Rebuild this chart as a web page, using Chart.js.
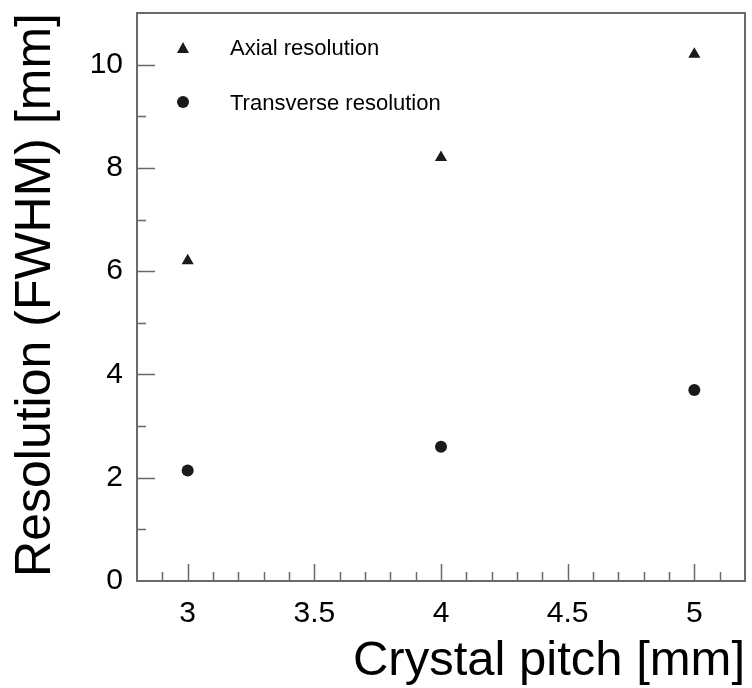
<!DOCTYPE html>
<html>
<head>
<meta charset="utf-8">
<script src="https://cdn.jsdelivr.net/npm/chart.js@4.4.0/dist/chart.umd.min.js"></script>
<style>
    html, body { margin: 0; padding: 0; background: #fff; }
    #wrap { width: 752px; height: 688px; }
</style>
</head>
<body>
<div id="wrap"><canvas id="chart" width="752" height="688"></canvas></div>
<script>
// Data
const pitches = [3, 4, 5];
const axialRes = [6.2, 8.2, 10.2];
const transverseRes = [2.14, 2.6, 3.7];
const seriesLabels = ['Axial resolution', 'Transverse resolution'];

// Axis ticks
const xTicks = [3, 3.5, 4, 4.5, 5];
const yTicks = [0, 2, 4, 6, 8, 10];
const xMinorStep = 0.1;
const yMinorStep = 1;

const xTitle = 'Crystal pitch [mm]';
const yTitle = 'Resolution (FWHM) [mm]';

const FONT = '"Liberation Sans", Arial, Helvetica, sans-serif';
const INK = '#1a1a1a';
const FRAME = '#6a6a6a';

// Frame and inward ticks, ROOT style
const frameTicks = {
    id: 'frameTicks',
    beforeDatasetsDraw(chart) {
        const { ctx, chartArea: a, scales: { x, y } } = chart;
        ctx.save();
        ctx.strokeStyle = FRAME;
        ctx.lineWidth = 1.5;
        ctx.beginPath();
        // x ticks
        const nx = Math.round((x.max - x.min) / xMinorStep);
        for (let i = 1; i < nx; i++) {
            const v = +(x.min + i * xMinorStep).toFixed(3);
            const px = Math.round(x.getPixelForValue(v)) + 0.5;
            const major = xTicks.some(t => Math.abs(t - v) < 1e-6);
            ctx.moveTo(px, a.bottom);
            ctx.lineTo(px, a.bottom - (major ? 17 : 9));
        }
        // y ticks
        const ny = Math.round((y.max - y.min) / yMinorStep);
        for (let i = 1; i < ny; i++) {
            const v = y.min + i * yMinorStep;
            const py = Math.round(y.getPixelForValue(v)) + 0.5;
            const major = yTicks.includes(v);
            ctx.moveTo(a.left, py);
            ctx.lineTo(a.left + (major ? 18 : 9), py);
        }
        ctx.stroke();
        ctx.lineWidth = 2;
        ctx.strokeRect(a.left, a.top, a.right - a.left, a.bottom - a.top);
        ctx.restore();
    },
    afterDraw(chart) {
        const { ctx, chartArea: a } = chart;
        ctx.save();
        ctx.fillStyle = '#000';
        // axis titles
        ctx.font = '49px ' + FONT;
        ctx.textAlign = 'right';
        ctx.textBaseline = 'alphabetic';
        ctx.fillText(xTitle, a.right, 675);
        ctx.font = '50px ' + FONT;
        ctx.translate(50, a.top);
        ctx.rotate(-Math.PI / 2);
        ctx.fillText(yTitle, 0, 0);
        ctx.restore();

        // legend inside the frame
        ctx.save();
        ctx.font = '22px ' + FONT;
        ctx.textAlign = 'left';
        ctx.textBaseline = 'alphabetic';
        chart.data.datasets.forEach((ds, i) => {
            const cx = 183, cy = 48 + i * 54;
            ctx.fillStyle = INK;
            ctx.beginPath();
            if (ds.pointStyle === 'triangle') {
                ctx.moveTo(cx, cy - 6);
                ctx.lineTo(cx + 6, cy + 5);
                ctx.lineTo(cx - 6, cy + 5);
                ctx.closePath();
            } else {
                ctx.arc(cx, cy, 6, 0, Math.PI * 2);
            }
            ctx.fill();
            ctx.fillStyle = '#000';
            ctx.fillText(ds.label, 230, 55 + i * 55);
        });
        ctx.restore();
    }
};

const toPoints = (xs, ys) => xs.map((v, i) => ({ x: v, y: ys[i] }));

new Chart(document.getElementById('chart'), {
    type: 'scatter',
    data: {
        datasets: [
            {
                label: seriesLabels[0],
                data: toPoints(pitches, axialRes),
                pointStyle: 'triangle',
                pointRadius: 7,
                backgroundColor: INK,
                borderColor: INK,
                borderWidth: 0
            },
            {
                label: seriesLabels[1],
                data: toPoints(pitches, transverseRes),
                pointStyle: 'circle',
                pointRadius: 6,
                backgroundColor: INK,
                borderColor: INK,
                borderWidth: 0
            }
        ]
    },
    options: {
        responsive: false,
        animation: false,
        events: [],
        layout: { padding: { top: 13, right: 4, left: 0, bottom: 0 } },
        plugins: {
            legend: { display: false },
            tooltip: { enabled: false }
        },
        scales: {
            x: {
                type: 'linear',
                min: 2.8,
                max: 5.2,
                grid: { display: false },
                border: { display: false },
                afterBuildTicks: s => { s.ticks = xTicks.map(v => ({ value: v })); },
                afterFit: s => { s.height = 107; s.paddingLeft = 0; s.paddingRight = 0; },
                ticks: {
                    color: '#000',
                    font: { family: FONT, size: 30 },
                    padding: 7,
                    maxRotation: 0,
                    autoSkip: false,
                    callback: v => String(v)
                }
            },
            y: {
                type: 'linear',
                min: 0,
                max: 11,
                grid: { display: false },
                border: { display: false },
                afterBuildTicks: s => { s.ticks = yTicks.map(v => ({ value: v })); },
                afterFit: s => { s.width = 137; s.paddingTop = 0; s.paddingBottom = 0; },
                ticks: {
                    color: '#000',
                    font: { family: FONT, size: 30 },
                    padding: 6,
                    autoSkip: false,
                    callback: v => String(v)
                }
            }
        }
    },
    plugins: [frameTicks]
});
</script>
</body>
</html>
